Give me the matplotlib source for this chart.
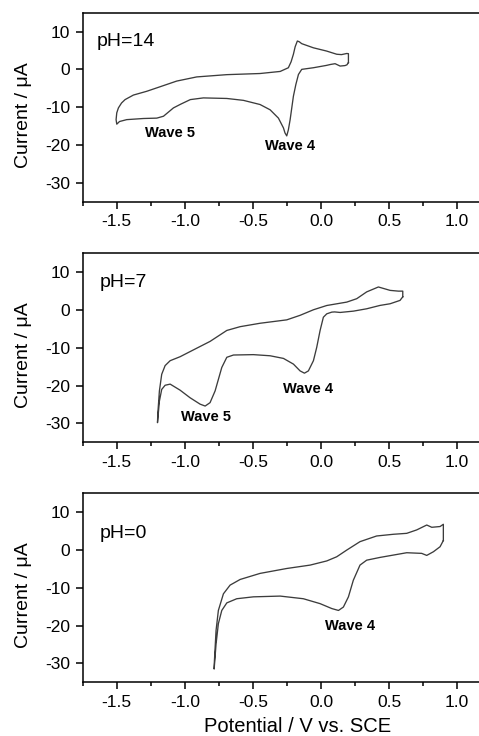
import matplotlib
matplotlib.use("Agg")
import numpy as np
from matplotlib import pyplot as plt
from matplotlib.ticker import MultipleLocator

plt.rcParams['font.family'] = ['Liberation Sans', 'DejaVu Sans']

# Cyclic voltammograms: cathodic sweep from the positive vertex, then the return sweep
e_ph14 = [0.201, 0.190, 0.176, 0.140, 0.103, 0.070, 0.040, -0.056, -0.142, -0.166, -0.185, -0.203,
          -0.227, -0.240, -0.252, -0.265, -0.276, -0.313, -0.374, -0.448, -0.570, -0.692, -0.864,
          -0.960, -1.030, -1.084, -1.157, -1.206, -1.304, -1.427, -1.480, -1.500,
          -1.505, -1.500, -1.488, -1.465, -1.439, -1.378, -1.280, -1.182, -1.060, -0.913, -0.692,
          -0.448, -0.300, -0.240, -0.220, -0.203, -0.190, -0.174, -0.160, -0.142, -0.056, 0.040,
          0.115, 0.150, 0.189, 0.201, 0.201]
i_ph14 = [1.8, 1.2, 1.0, 0.87, 1.5, 1.3, 1.05, 0.43, 0.0, -1.35, -4.0, -7.1,
          -13.3, -16.0, -17.6, -16.8, -15.5, -12.9, -10.7, -9.3, -8.2, -7.7, -7.55,
          -8.0, -9.2, -10.2, -12.4, -12.9, -13.0, -13.3, -13.8, -14.5,
          -13.3, -11.5, -10.2, -8.9, -8.0, -6.8, -5.8, -4.6, -3.1, -2.0, -1.4,
          -1.1, -0.55, 0.43, 2.0, 4.0, 6.0, 7.5, 7.3, 6.8, 5.7, 4.85,
          4.0, 3.9, 4.2, 4.15, 1.8]

e_ph7 = [0.600, 0.580, 0.507, 0.433, 0.335, 0.238, 0.140, 0.100, 0.079, 0.042, 0.017, -0.007,
         -0.032, -0.056, -0.093, -0.122, -0.154, -0.203, -0.276, -0.374, -0.497, -0.643, -0.692,
         -0.729, -0.778, -0.815, -0.851, -0.888, -0.962, -1.035, -1.108, -1.145, -1.170, -1.187,
         -1.201,
         -1.199, -1.187, -1.170, -1.145, -1.108, -1.035, -0.913, -0.815, -0.692, -0.594, -0.448,
         -0.252, -0.154, -0.056, 0.042, 0.189, 0.262, 0.335, 0.421, 0.507, 0.568, 0.600, 0.600]
i_ph7 = [3.5, 2.55, 1.66, 1.22, 0.33, -0.29, -0.64, -0.5, -0.55, -1.0, -1.9, -5.4,
         -9.9, -13.4, -16.1, -16.7, -16.1, -14.3, -12.8, -12.1, -11.8, -11.9, -12.5,
         -15.2, -21.4, -24.5, -25.4, -24.9, -23.2, -21.2, -19.6, -19.9, -21.0, -24.1,
         -29.8,
         -27.6, -21.4, -17.0, -14.7, -13.4, -12.35, -10.1, -8.3, -5.4, -4.4, -3.5,
         -2.6, -1.4, 0.07, 1.2, 2.1, 3.0, 4.8, 6.1, 5.2, 5.0, 5.0, 3.5]

e_ph0 = [0.898, 0.874, 0.825, 0.776, 0.739, 0.629, 0.531, 0.433, 0.335, 0.286, 0.237, 0.201,
         0.164, 0.128, 0.079, -0.007, -0.130, -0.300, -0.497, -0.619, -0.692, -0.729, -0.754,
         -0.771, -0.785,
         -0.783, -0.771, -0.754, -0.717, -0.668, -0.594, -0.448, -0.252, -0.080, 0.042, 0.115,
         0.189, 0.286, 0.408, 0.531, 0.629, 0.702, 0.776, 0.813, 0.874, 0.898, 0.898]
i_ph0 = [2.5, 0.86, -0.47, -1.44, -0.9, -0.73, -1.35, -1.97, -2.7, -4.0, -8.0, -12.4,
         -15.1, -16.0, -15.5, -14.2, -12.9, -12.2, -12.4, -12.9, -14.0, -16.0, -19.5,
         -24.9, -31.5,
         -29.3, -21.3, -16.0, -11.6, -9.3, -7.8, -6.2, -4.9, -4.0, -2.9, -1.8,
         -0.02, 2.2, 3.7, 4.15, 4.4, 5.3, 6.6, 6.0, 6.2, 6.8, 2.5]

ph_labels = ['pH=14', 'pH=7', 'pH=0']
wave_labels = [[('Wave 5', -1.292, -16.9), ('Wave 4', -0.411, -20.4)],
               [('Wave 4', -0.276, -20.8), ('Wave 5', -1.030, -28.2)],
               [('Wave 4', 0.032, -20.0)]]
ph_pos = [(-1.647, 7.3), (-1.622, 7.2), (-1.622, 4.4)]

x_ticks = [-1.5, -1.0, -0.5, 0.0, 0.5, 1.0]
y_ticks = [10, 0, -10, -20, -30]

curves = [(e_ph14, i_ph14), (e_ph7, i_ph7), (e_ph0, i_ph0)]

fig = plt.figure(figsize=(4.79, 7.36), dpi=100)
bottoms = [0.726, 0.399, 0.073]

for k, (e, i) in enumerate(curves):
    ax = fig.add_axes([0.1727, bottoms[k], 0.8956, 0.2568])
    ax.plot(e, i, color='#3c3c3c', lw=0.95)

    ax.set_xlim(-1.75, 1.4)
    ax.set_ylim(-35, 15)
    ax.set_xticks(x_ticks)
    ax.set_xticklabels(['%.1f' % v for v in x_ticks])
    ax.xaxis.set_minor_locator(MultipleLocator(0.25))
    ax.set_yticks(y_ticks)
    ax.set_yticklabels([str(v) for v in y_ticks])

    ax.tick_params(axis='both', which='major', direction='out', length=5, width=1.1,
                   labelsize=12.5, pad=4)
    ax.tick_params(axis='x', which='minor', direction='out', length=3, width=1.1)
    for sp in ax.spines.values():
        sp.set_linewidth(1.1)

    ax.set_ylabel('Current / \u03bcA', fontsize=14)
    ax.yaxis.set_label_coords(-0.118, 0.46)

    ax.text(ph_pos[k][0], ph_pos[k][1], ph_labels[k], fontsize=14, va='center', ha='left')
    for txt, x, y in wave_labels[k]:
        ax.text(x, y, txt, fontsize=10.5, fontweight='bold', va='center', ha='left')

    if k == 2:
        ax.set_xlabel('Potential / V vs. SCE', fontsize=14.5, labelpad=5)

fig.savefig('out.png', dpi=100)
